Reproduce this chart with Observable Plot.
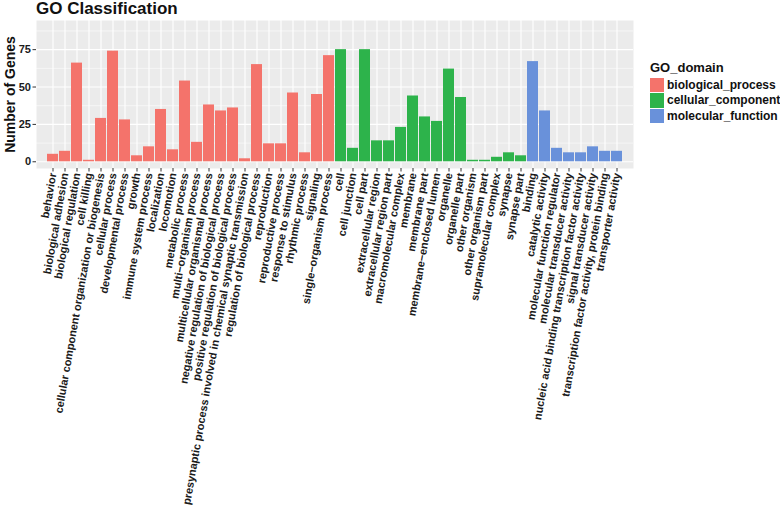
<!DOCTYPE html>
<html>
<head>
<meta charset="utf-8">
<script src="https://cdn.jsdelivr.net/npm/d3@7"></script>
<script src="https://cdn.jsdelivr.net/npm/@observablehq/plot@0.6"></script>
<style>
  html, body { margin: 0; padding: 0; background: white; }
  #wrap { position: relative; width: 780px; height: 506px; font-family: "Liberation Sans", Arial, sans-serif; font-weight: bold; color: #111; }
  #title { position: absolute; left: 36px; top: 0px; font-size: 17px; line-height: 17px; }
  #legend { position: absolute; left: 650px; top: 60px; font-size: 12px; }
  #legend .lt { font-size: 13px; line-height: 15px; margin-bottom: 2px; }
  #legend .row { display: flex; align-items: center; height: 15.5px; }
  #legend .sw { width: 14px; height: 14.5px; margin-right: 3px; }
</style>
</head>
<body>
<div id="wrap">
  <div id="chart"></div>
  <div id="title">GO Classification</div>
  <div id="legend"></div>
</div>
<script>
const categories = [
  "behavior", "biological adhesion", "biological regulation", "cell killing",
  "cellular component organization or biogenesis", "cellular process", "developmental process",
  "growth", "immune system process", "localization", "locomotion", "metabolic process",
  "multi−organism process", "multicellular organismal process",
  "negative regulation of biological process", "positive regulation of biological process",
  "presynaptic process involved in chemical synaptic transmission",
  "regulation of biological process", "reproduction", "reproductive process",
  "response to stimulus", "rhythmic process", "signaling", "single−organism process",
  "cell", "cell junction", "cell part", "extracellular region", "extracellular region part",
  "macromolecular complex", "membrane", "membrane part", "membrane−enclosed lumen",
  "organelle", "organelle part", "other organism", "other organism part",
  "supramolecular complex", "synapse", "synapse part",
  "binding", "catalytic activity", "molecular function regulator",
  "molecular transducer activity", "nucleic acid binding transcription factor activity",
  "signal transducer activity", "transcription factor activity, protein binding",
  "transporter activity"
];
const geneCounts = [
  5, 7, 66, 1, 29, 74, 28, 4, 10, 35, 8, 54, 13, 38, 34, 36, 2, 65, 12, 12, 46, 6, 45, 71,
  75, 9, 75, 14, 14, 23, 44, 30, 27, 62, 43, 1, 1, 3, 6, 4,
  67, 34, 9, 6, 6, 10, 7, 7
];
const domainCounts = [24, 16, 8];
const domains = ["biological_process", "cellular_component", "molecular_function"];
const domainColors = ["#F4736B", "#2DB34B", "#6991DA"];
const yTicks = [0, 25, 50, 75];
const yMinorTicks = [12.5, 37.5, 62.5, 87.5];

const domainOf = [];
domainCounts.forEach((c, i) => { for (let k = 0; k < c; k++) domainOf.push(domains[i]); });
const rows = categories.map((c, i) => ({cat: c, n: geneCounts[i], domain: domainOf[i]}));

const chart = Plot.plot({
  width: 780,
  height: 506,
  marginLeft: 36,
  marginRight: 147,
  marginTop: 20,
  marginBottom: 338,
  x: {domain: categories, paddingInner: 0.1, paddingOuter: 0.15, axis: null},
  y: {domain: [-4.5, 94.5], axis: null},
  color: {domain: domains, range: domainColors},
  style: {fontFamily: "'Liberation Sans', Arial, sans-serif", background: "white", overflow: "visible"},
  marks: [
    Plot.frame({fill: "#EBEBEB", stroke: null}),
    Plot.gridY(yMinorTicks, {stroke: "white", strokeOpacity: 1, strokeWidth: 0.55}),
    Plot.gridY(yTicks, {stroke: "white", strokeOpacity: 1, strokeWidth: 1.1}),
    Plot.gridX({stroke: "white", strokeOpacity: 1, strokeWidth: 1.1}),
    Plot.barY(rows, {x: "cat", y: "n", fill: "domain"}),
    Plot.axisY(yTicks, {tickSize: 3.5, tickPadding: 2, fontSize: 11, fontWeight: "bold", fill: "#1a1a1a", stroke: "#333", label: null}),
    Plot.axisX({tickRotate: -80, tickSize: 3.5, tickPadding: 1, fontSize: 11, fontWeight: "bold", fill: "#1a1a1a", stroke: "#333", label: null}),
    Plot.text(["Number of Genes"], {frameAnchor: "left", dx: -26, rotate: -90, textAnchor: "middle", fontSize: 14, fontWeight: "bold", fill: "#111"})
  ]
});
document.getElementById("chart").appendChild(chart);

const legend = document.getElementById("legend");
legend.innerHTML = `<div class="lt">GO_domain</div>` +
  domains.map((d, i) => `<div class="row"><div class="sw" style="background:${domainColors[i]}"></div><span>${d}</span></div>`).join("");
</script>
</body>
</html>
